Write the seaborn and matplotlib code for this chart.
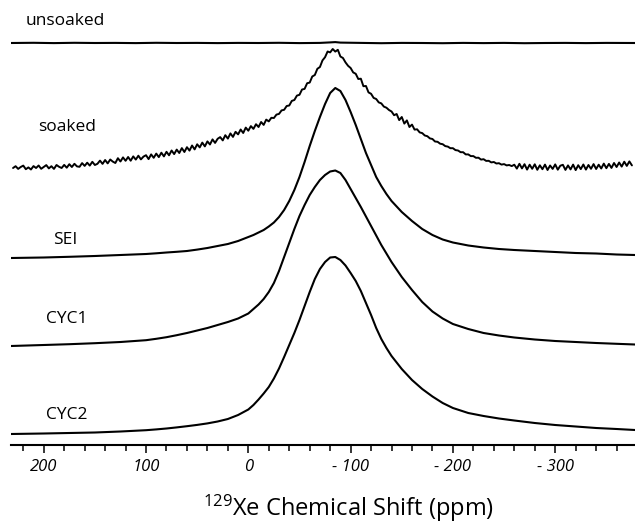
import numpy as np
import pandas as pd
import matplotlib
matplotlib.use("Agg")
import matplotlib.pyplot as plt
from matplotlib.ticker import MultipleLocator, FuncFormatter
import seaborn as sns

sns.set_style("white")
plt.rcParams['font.family'] = ['Open Sans', 'DejaVu Sans']
plt.rcParams['mathtext.default'] = 'regular'
plt.rcParams['text.color'] = 'black'
plt.rcParams['xtick.color'] = 'black'
plt.rcParams['axes.edgecolor'] = 'black'

# Data, intensities above each trace's own baseline
samples = ['unsoaked', 'soaked', 'SEI', 'CYC1', 'CYC2']

# smooth traces share one ppm grid
ppm_smooth = [232, 200, 175, 150, 125, 100, 90, 80, 70, 60, 50, 40, 30, 20, 10, 0,
              -5, -10, -15, -20, -25, -30, -35, -40, -45, -50, -55, -60, -65, -70,
              -75, -80, -85, -90, -95, -100, -105, -110, -115, -120, -125, -130, -135, -140,
              -150, -160, -170, -180, -190, -200,
              -215, -230, -245, -260,
              -280, -300, -320, -340, -360, -378]
sei = [0, 0.5, 1.2, 2, 3, 4, 4.7, 5.5, 6.2, 7, 8.4, 10, 12, 14, 17, 21,
       23, 25.5, 28, 31.5, 35.5, 41, 48, 57, 68, 81, 96, 112, 127, 141,
       154, 165, 170, 167, 158, 146, 133, 119, 105, 93, 81, 72, 64, 57,
       46, 37, 29, 23, 18.5, 15.5,
       12.5, 10.5, 9, 8,
       7, 6, 5, 4.5, 3.5, 3]
cyc1 = [0, 1, 1.8, 2.8, 4, 5.8, 7.2, 8.8, 10.8, 13, 15.5, 18, 21, 24, 27.5, 32.5,
        37, 41.5, 47, 54, 63, 75, 89, 103, 117, 130, 141, 151, 159, 166,
        171, 174.5, 175.5, 173, 166, 157, 148, 139, 129.5, 120, 110.5, 101, 92.5, 84,
        69, 56, 44, 34.5, 27.5, 22,
        17, 13, 10.5, 8.5,
        6.5, 5, 4, 3, 2.2, 1.5]
cyc2 = [0, 0.5, 1, 1.5, 2.5, 3.8, 4.6, 5.5, 6.6, 7.8, 9.1, 10.6, 12.5, 15, 19, 24.5,
        29, 34.5, 40.5, 47, 55.5, 65.5, 77, 89, 101, 114, 128, 142, 155, 165,
        172, 176.5, 177, 174, 168.5, 161, 153, 143, 131, 119, 106, 95, 86, 78,
        65, 54, 45, 37.5, 31, 26,
        21, 18, 15.5, 13.5,
        11, 9, 7.5, 6, 5, 4]

# noisy traces
ppm_unsoaked = [232, 210, 190, 170, 150, 130, 110, 90, 70, 50, 30, 10, -10, -30,
                -50, -70, -80, -85, -90, -110, -130, -150, -170, -190, -210, -230,
                -250, -270, -290, -310, -330, -350, -378]
unsoaked = [0, 0.2, -0.1, 0.2, 0, 0.1, -0.1, 0.2, 0, 0.1, -0.1, 0.1, 0, 0.2,
            -0.1, 0.1, 0.6, 0.9, 0.4, 0.1, -0.2, 0.1, 0, -0.2, 0.1, -0.1,
            0.1, -0.2, 0, 0.1, -0.1, 0.1, 0]

# soaked spectrum, one value every 2.5 ppm from 230 ppm downwards
soaked = [0, 1.8, -0.9, 1.0, 2.4, -1.2, 0.6, -1.5, 1.9, 0.0,
          2.5, -0.8, 1.1, 2.9, -0.4, 1.8, -0.9, 3.0, 1.2, 0.0,
          3.1, 0.3, 3.8, 1.0, 4.2, 1.6, 1.2, 4.9, 2.1, 5.3,
          2.4, 6.2, 3.0, 4.2, 7.4, 4.1, 8.0, 4.6, 8.5, 6.4,
          5.0, 9.8, 6.5, 10.6, 7.2, 11.0, 7.3, 11.6, 8.4, 12.3,
          8.6, 11.4, 12.8, 8.9, 13.6, 10.2, 14.4, 10.9, 15.3, 11.6,
          16.2, 12.7, 17.5, 13.9, 18.4, 15.0, 19.9, 16.0, 20.8, 17.4,
          22.5, 18.6, 23.7, 20.6, 25.4, 21.6, 26.6, 23.5, 28.6, 25.1,
          29.2, 30.9, 27.6, 32.8, 29.4, 34.6, 31.1, 36.2, 33.6, 38.5,
          35.0, 40.4, 37.3, 41.9, 39.1, 43.8, 41.0, 46.0, 43.1, 48.4,
          46.6, 50.2, 50.0, 53.4, 54.1, 57.6, 58.2, 62.0, 62.5, 67.1,
          68.0, 72.4, 73.2, 78.5, 79.1, 84.8, 85.4, 91.5, 93.0, 99.2,
          101.0, 107.6, 110.8, 116.5, 115.6, 119.0, 116.4, 118.2, 111.5, 110.0,
          105.6, 102.2, 100.0, 95.6, 94.2, 89.0, 89.3, 81.8, 82.0, 75.6,
          74.2, 70.1, 69.0, 65.6, 64.6, 61.4, 60.3, 58.0, 56.5, 52.8,
          54.0, 47.9, 51.0, 44.4, 47.6, 41.0, 43.4, 38.4, 38.7, 35.6,
          34.9, 32.5, 31.8, 29.6, 29.0, 26.5, 26.2, 24.3, 23.8, 21.9,
          21.4, 19.8, 19.8, 17.9, 17.5, 15.8, 15.8, 13.6, 13.6, 11.9,
          11.9, 10.2, 10.3, 8.4, 8.8, 7.1, 7.2, 5.6, 6.0, 4.5,
          4.8, 3.4, 3.9, 2.6, 3.0, 1.9, 3.3, -0.6, 4.2, -0.4,
          3.8, -1.6, 3.3, -0.8, 3.7, -1.8, 2.7, -1.2, 3.4, -2.0,
          2.5, -0.9, 3.6, -1.7, 2.3, 3.2, -1.9, 2.6, -1.4, 3.4,
          -2.1, 2.8, -1.1, 3.5, -1.6, 3.0, -0.8, 3.9, -1.0, 3.3,
          -0.5, 4.4, -0.2, 4.1, 0.1, 5.0, 1.0, 5.5, 1.4, 6.3,
          2.1, 6.6, 2.6]
ppm_soaked = 230 - 2.5 * np.arange(len(soaked))

series = {
    'unsoaked': (ppm_unsoaked, unsoaked),
    'soaked': (ppm_soaked, soaked),
    'SEI': (ppm_smooth, sei),
    'CYC1': (ppm_smooth, cyc1),
    'CYC2': (ppm_smooth, cyc2),
}

# stacking offsets and label positions (ppm, height)
offsets = {'unsoaked': 402, 'soaked': 277, 'SEI': 187, 'CYC1': 99, 'CYC2': 11}
label_pos = {'unsoaked': (218, 424), 'soaked': (205, 318), 'SEI': (191, 205),
             'CYC1': (198, 126), 'CYC2': (198, 30)}

rows = []
for name in samples:
    xs, ys = series[name]
    for x, y in zip(xs, ys):
        rows.append({'sample': name, 'ppm': x, 'signal': y + offsets[name]})
df = pd.DataFrame(rows)

fig = plt.figure(figsize=(6.35, 5.24), dpi=100)
ax = fig.add_axes([11 / 635, 79 / 524, 624 / 635, 445 / 524])

for name in samples:
    d = df[df['sample'] == name]
    sns.lineplot(data=d, x='ppm', y='signal', color='black',
                 lw=1.4 if name == 'soaked' else 1.5,
                 estimator=None, ax=ax)
    lx, ly = label_pos[name]
    ax.text(lx, ly, name, fontsize=12.5, ha='left', va='center')

ax.set_xlim(232, -378)
ax.set_ylim(0, 445)
ax.set_yticks([])
ax.set_ylabel('')
ax.set_xlabel('')
for s in ['left', 'right', 'top']:
    ax.spines[s].set_visible(False)
ax.spines['bottom'].set_linewidth(1.5)

ax.xaxis.set_major_locator(MultipleLocator(100))
ax.xaxis.set_minor_locator(MultipleLocator(20))
ax.xaxis.set_major_formatter(FuncFormatter(
    lambda v, p: '{:d}'.format(int(v)) if v >= 0 else '- {:d}'.format(int(-v))))
ax.tick_params(axis='x', which='major', direction='out', length=6, width=1.1,
               pad=4, labelsize=12, bottom=True)
ax.tick_params(axis='x', which='minor', direction='out', length=4.5, width=1.1,
               bottom=True)
for lab in ax.get_xticklabels():
    lab.set_style('italic')

fig.text(349 / 635, 1 - 516 / 524, r'$^{129}$Xe Chemical Shift (ppm)',
         fontsize=17, ha='center', va='baseline')

fig.savefig('out.png', dpi=100)
